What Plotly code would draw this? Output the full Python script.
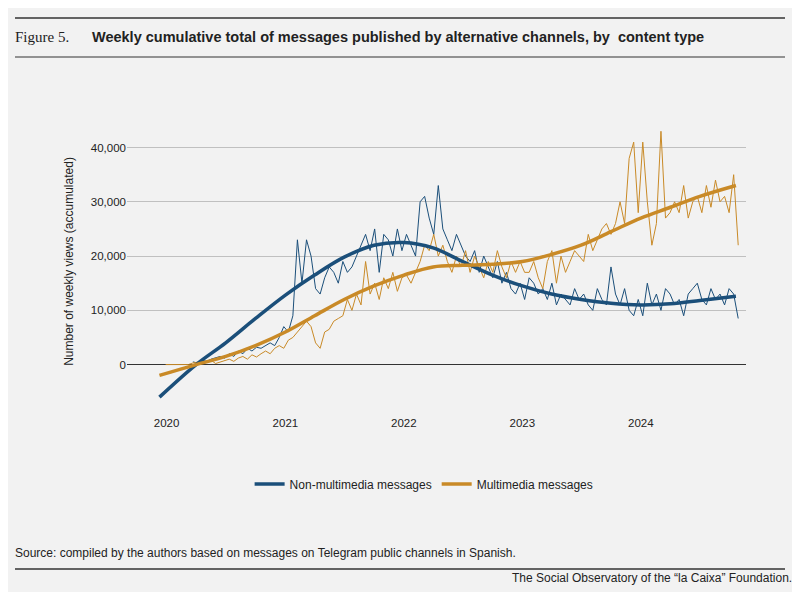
import plotly.graph_objects as go
import pandas as pd

non_mm = [None, None,
 None, None, None, None, 0.5, 0.3, 0.8, 0.6, 1, 1.2, 1.5, 1.2, 2, 1.5, 2.5, 2, 3, 2.5, 3.2, 3, 3.5, 4, 3.5, 5, 7, 6,
 9, 23, 15, 23, 20, 14, 13, 16, 18, 17, 15, 19, 17, 18, 20, 22, 24, 21, 25, 17, 24, 23, 20, 25, 21, 24,
 22, 20, 30, 31, 27, 24, 33, 25, 23, 21, 24, 22, 20, 19, 21, 17, 20, 18, 16, 19, 15, 17, 14, 13, 15, 12,
 16, 15, 13, 14, 12, 15, 11, 13, 12, 11, 14, 12, 13, 11, 10, 14, 12, 11, 18, 13, 11, 14, 10, 9, 12, 9,
 15, 11, 13, 10, 14, 13, 11, 12, 9, 13, 14, 15, 12, 11, 14, 12, 13, 11, 14, 13, 8.5]
mm = [0, 0,
 0, 0, 0, 0, 0.3, 0.5, 0.6, 0.4, 0.8, 0.2, 0.5, 0.8, 1, 0.6, 1.2, 1.5, 1, 1.8, 1.4, 2, 2.5, 2, 3, 3.5, 3, 4.5,
 5, 6, 7, 8, 7, 4, 3, 6, 6.5, 8, 8.5, 9, 12, 10, 13, 11, 19, 13, 15, 12, 16, 14, 17, 13.5, 16, 16.5,
 15, 17, 19, 22, 21, 24, 20, 22, 19, 17, 20, 18, 21, 17, 20, 18, 16, 19, 17, 21, 18, 16, 19, 17, 19, 17,
 17, 19, 16, 14, 19, 21, 15, 20, 17, 19, 21, 20, 19, 24, 21, 23, 25, 26, 24, 26, 30, 26, 38, 41, 28, 41,
 30, 22, 26, 43, 27, 28, 30, 28, 33, 27, 30, 31, 28, 33, 29, 34, 30, 31, 28, 35, 22]

trend_dates = ["2019-12-10", "2020-04-01", "2020-07-01", "2020-10-01", "2021-01-01", "2021-04-01",
               "2021-07-01", "2021-10-01", "2022-01-01", "2022-04-01", "2022-07-01", "2022-10-01",
               "2023-01-01", "2023-04-01", "2023-07-01", "2023-10-01", "2024-01-01", "2024-04-01",
               "2024-07-01", "2024-10-20"]
non_mm_trend = [-6, 0, 4, 8.5, 12.8, 16.5, 19.8, 22, 22.5, 21.5, 19, 16.5, 14.5, 13, 12, 11.3, 11, 11.2, 11.8, 12.6]
mm_trend = [-2, 0, 1.5, 3.5, 6, 9, 12, 14.5, 16.5, 18, 18.3, 18.5, 19, 20.3, 22, 24.5, 27, 29, 31, 33]

dates = pd.date_range(end="2024-10-27", periods=len(mm), freq="14D")
k = lambda v: [None if x is None else x * 1000 for x in v]

BLUE = "#1b4f7a"
GOLD = "#c98a27"
fig = go.Figure()
fig.add_trace(go.Scatter(x=dates, y=k(non_mm), mode="lines", line=dict(color=BLUE, width=1), showlegend=False))
fig.add_trace(go.Scatter(x=dates, y=k(mm), mode="lines", line=dict(color=GOLD, width=1), showlegend=False))
fig.add_trace(go.Scatter(x=trend_dates, y=k(non_mm_trend), mode="lines", name="Non-multimedia messages",
                         line=dict(color=BLUE, width=3.5, shape="spline")))
fig.add_trace(go.Scatter(x=trend_dates, y=k(mm_trend), mode="lines", name="Multimedia messages",
                         line=dict(color=GOLD, width=3.5, shape="spline")))

# pixel helpers (screen coords; page is offset by 8px body margin)
def px(x): return (x - 127) / 619
def py(y): return (408 - y) / 293

fig.update_layout(
    width=800, height=592, paper_bgcolor="#f2f2f2", plot_bgcolor="#f2f2f2",
    margin=dict(l=119, r=62, t=107, b=192, autoexpand=False),
    font=dict(family="Liberation Sans, Arial", size=11.5, color="#222"),
    xaxis=dict(type="date", range=["2019-09-01", "2024-11-20"], showgrid=False, automargin=False,
               tickvals=["2020-01-01", "2021-01-01", "2022-01-01", "2023-01-01", "2024-01-01"],
               ticktext=["2020", "2021", "2022", "2023", "2024"], ticks="", ticklabelstandoff=6),
    yaxis=dict(range=[-8000, 46000], tickvals=[0, 10000, 20000, 30000, 40000], automargin=False,
               ticktext=["0", "10,000", "20,000", "30,000", "40,000"], gridcolor="#c0c0c0",
               zeroline=True, zerolinecolor="#333", zerolinewidth=1.2,
               title=dict(text="Number of weekly views (accumulated)", font=dict(size=12), standoff=14)),
    legend=dict(orientation="h", x=0.48, xanchor="center", yref="container", y=1 - 476 / 592, yanchor="middle",
                font=dict(size=12), bgcolor="rgba(0,0,0,0)"),
    shapes=[
        dict(type="line", xref="paper", yref="paper", x0=px(15), x1=px(785), y0=py(18), y1=py(18), line=dict(color="#333", width=1.5)),
        dict(type="line", xref="paper", yref="paper", x0=px(15), x1=px(785), y0=py(57), y1=py(57), line=dict(color="#333", width=1)),
        dict(type="line", xref="paper", yref="paper", x0=px(15), x1=px(785), y0=py(569), y1=py(569), line=dict(color="#333", width=1.5)),
    ],
    annotations=[
        dict(text="Figure 5.", xref="paper", yref="paper", x=px(13), y=py(37), xanchor="left", yanchor="middle",
             showarrow=False, font=dict(family="Liberation Serif", size=15, color="#222")),
        dict(text="<b>Weekly cumulative total of messages published by alternative channels, by  content type</b>",
             xref="paper", yref="paper", x=px(90), y=py(37), xanchor="left", yanchor="middle", showarrow=False,
             font=dict(size=14.5, color="#222")),
        dict(text="Source: compiled by the authors based on messages on Telegram public channels in Spanish.",
             xref="paper", yref="paper", x=px(13), y=py(553), xanchor="left", yanchor="middle", showarrow=False,
             font=dict(size=12, color="#222")),
        dict(text="The Social Observatory of the “la Caixa” Foundation.", xref="paper", yref="paper",
             x=px(794), y=py(578), xanchor="right", yanchor="middle", showarrow=False, font=dict(size=12, color="#222")),
    ],
)
fig.write_html("out.html")
